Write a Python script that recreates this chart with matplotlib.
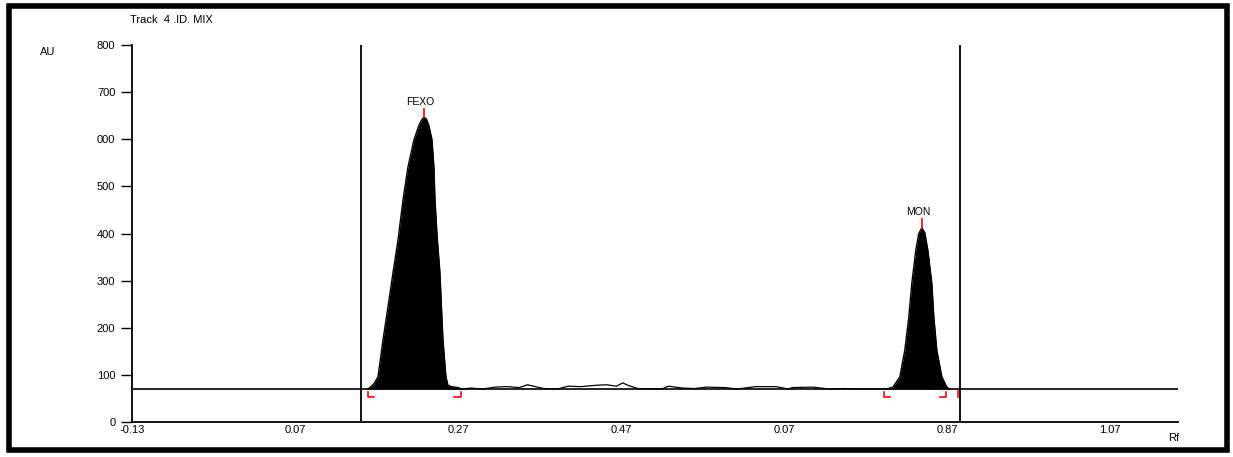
import matplotlib.pyplot as plt
from matplotlib.patches import Rectangle

baseline = 70
front_lines = [0.151, 0.885]  # lineas verticales (aplicacion / frente)

fexo_rf = [0.1594, 0.163, 0.167, 0.1717, 0.1778, 0.1839, 0.1900, 0.1962, 0.2023,
           0.2084, 0.2158, 0.222, 0.2255, 0.2281, 0.2310, 0.234, 0.2379, 0.2403,
           0.2416, 0.2440, 0.2452, 0.2477, 0.2495, 0.2514, 0.2550, 0.2575, 0.262,
           0.270, 0.2747]
fexo_au = [70, 75, 82, 96, 174, 244, 316, 386, 471,
           541, 599, 630, 642, 647, 643, 630, 599, 541,
           471, 400, 372, 316, 244, 174, 96, 78, 75,
           73, 70]

mon_rf = [0.7958, 0.8032, 0.8118, 0.8179, 0.8228, 0.8265, 0.8314, 0.8350, 0.8388,
          0.8425, 0.8461, 0.8510, 0.8535, 0.8571, 0.8633, 0.8694, 0.873]
mon_au = [70, 74, 96, 153, 223, 295, 365, 400, 412,
          401, 365, 295, 223, 153, 96, 74, 70]

noise_rf = [0.2747, 0.285, 0.30, 0.315, 0.33, 0.345, 0.355, 0.375, 0.392, 0.405,
            0.42, 0.44, 0.452, 0.464, 0.472, 0.478, 0.49, 0.52, 0.528, 0.545,
            0.56, 0.575, 0.598, 0.612, 0.635, 0.66, 0.675, 0.68, 0.705, 0.725,
            0.742, 0.76, 0.7958]
noise_au = [70, 72, 70, 74, 75, 73, 79, 71, 70, 76,
            75, 78, 79, 76, 83, 78, 71, 70, 76, 72,
            71, 74, 73, 70, 75, 75, 70, 73, 74, 70,
            71, 70, 70]

peak_names = ['FEXO', 'MON']
peak_rf = [0.2281, 0.8388]
peak_au = [647, 412]
brackets_open = [0.159, 0.792]
brackets_close = [0.273, 0.869]
extra_mark = [0.883]

yticks = [0, 100, 200, 300, 400, 500, 600, 700, 800]
ytick_labels = ['0', '100', '200', '300', '400', '500', '000', '700', '800']
xticks = [-0.13, 0.07, 0.27, 0.47, 0.67, 0.87, 1.07]
xtick_labels = ['-0.13', '0.07', '0.27', '0.47', '0.07', '0.87', '1.07']

plt.rcParams['font.family'] = ['Liberation Sans', 'DejaVu Sans']

fig = plt.figure(figsize=(12.33, 4.57), dpi=100)
ax = fig.add_axes([0.1071, 0.0766, 0.9554 - 0.1071, 0.9015 - 0.0766])

# picos rellenos
ax.fill_between(fexo_rf, baseline, fexo_au, color='black', lw=0)
ax.plot(fexo_rf, fexo_au, color='black', lw=1)
ax.fill_between(mon_rf, baseline, mon_au, color='black', lw=0)
ax.plot(mon_rf, mon_au, color='black', lw=1)
ax.plot(noise_rf, noise_au, color='black', lw=0.9)

# linea base y lineas verticales
ax.axhline(baseline, color='black', lw=1.2)
for xv in front_lines:
    ax.axvline(xv, color='black', lw=1.3)

# etiquetas de pico
for name, x, y in zip(peak_names, peak_rf, peak_au):
    ax.plot([x, x], [y, y + 18], color='red', lw=1.2)
    ax.text(x - 0.004, y + 22, name, ha='center', va='bottom', fontsize=7.5)

# marcas de integracion
for x in brackets_open:
    ax.plot([x, x, x + 0.008], [64, 53, 53], color='red', lw=1.2)
for x in brackets_close:
    ax.plot([x - 0.008, x, x], [53, 53, 64], color='red', lw=1.2)
for x in extra_mark:
    ax.plot([x, x], [53, 66], color='red', lw=1.2)

ax.set_xlim(-0.13, 1.153)
ax.set_ylim(0, 800)
ax.set_yticks(yticks)
ax.set_yticklabels(ytick_labels, fontsize=8)
ax.set_xticks(xticks)
ax.set_xticklabels(xtick_labels, fontsize=8)
ax.tick_params(axis='y', direction='out', length=8, width=1, pad=4)
ax.tick_params(axis='x', length=0, pad=2)
ax.spines['top'].set_visible(False)
ax.spines['right'].set_visible(False)
ax.spines['left'].set_linewidth(1.3)
ax.spines['bottom'].set_linewidth(1.3)

# textos de la figura
fig.text(130 / 1233, 1 - 20 / 457, 'Track  4 .ID. MIX', fontsize=8, va='center')
fig.text(40 / 1233, 1 - 52 / 457, 'AU', fontsize=8, va='center')
fig.text(1168 / 1233, 1 - 438 / 457, 'Rf', fontsize=8, va='center')

# marco exterior grueso
fig.patches.append(Rectangle((9 / 1233, 7 / 457), 1218 / 1233, 444 / 457,
                             transform=fig.transFigure, fill=False,
                             edgecolor='black', lw=4))

fig.savefig('out.png', dpi=100)
